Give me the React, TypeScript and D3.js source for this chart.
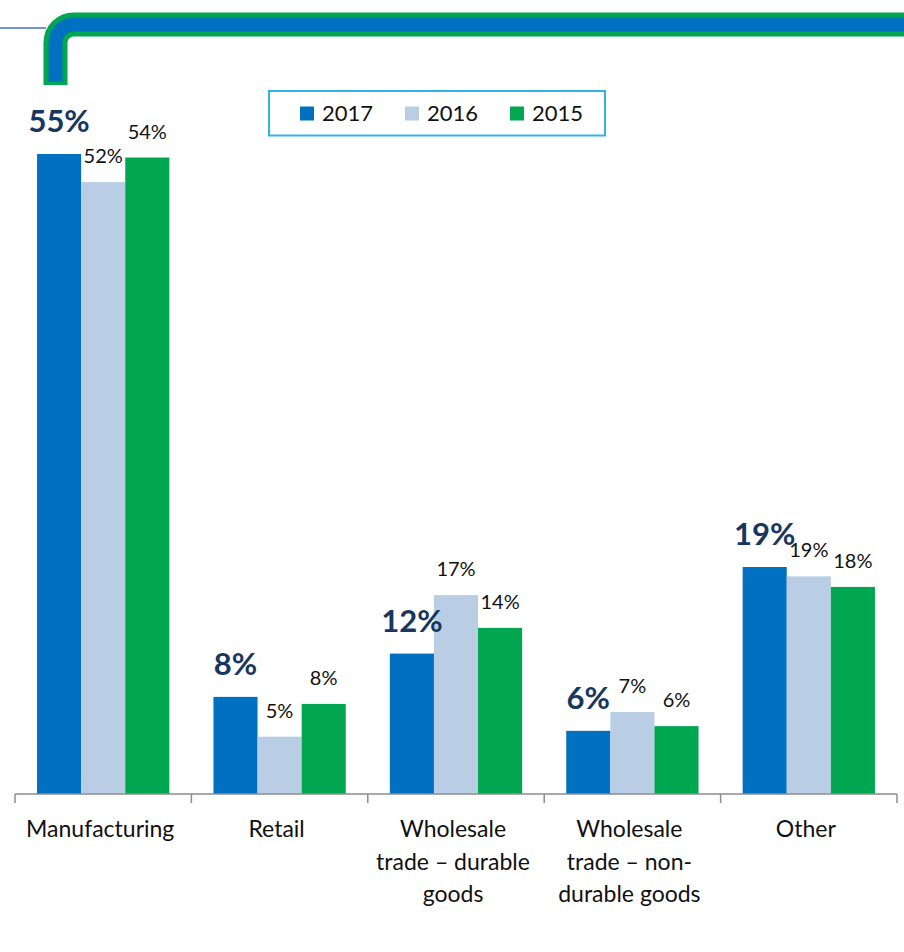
import React from "react";
import * as d3 from "d3";

const categories = [
  "Manufacturing",
  "Retail",
  "Wholesale trade – durable goods",
  "Wholesale trade – non-durable goods",
  "Other",
];
const categoryLines = [
  ["Manufacturing"],
  ["Retail"],
  ["Wholesale", "trade – durable", "goods"],
  ["Wholesale", "trade – non-", "durable goods"],
  ["Other"],
];
const seriesNames = ["2017", "2016", "2015"];
const values2017 = [54.7, 8.3, 12.0, 5.4, 19.4];
const values2016 = [52.3, 4.9, 17.0, 7.0, 18.6];
const values2015 = [54.4, 7.7, 14.2, 5.8, 17.7];
const labels2017 = ["55%", "8%", "12%", "6%", "19%"];
const labels2016 = ["52%", "5%", "17%", "7%", "19%"];
const labels2015 = ["54%", "8%", "14%", "6%", "18%"];

const W = 904;
const H = 952;
const colors = ["#0070C0", "#B9CDE5", "#00A650"];
const FONT = "Lato, 'Open Sans', sans-serif";

export default function App() {
  const series = [values2017, values2016, values2015];
  const labels = [labels2017, labels2016, labels2015];

  const x0 = d3
    .scaleBand<string>()
    .domain(categories)
    .range([15, 897])
    .paddingInner(0)
    .paddingOuter(0);
  const x1 = d3
    .scaleBand<string>()
    .domain(seriesNames)
    .range([0, x0.bandwidth()])
    .paddingInner(0)
    .paddingOuter(0.5);
  const y = d3.scaleLinear().domain([0, 60]).range([794, 794 - 60 * 11.7]);

  const ticks = d3.range(categories.length + 1).map((i) =>
    i < categories.length ? (x0(categories[i]) as number) : 897
  );

  // pipe decoration
  const r = 18;
  const cx = 55.5;
  const cy = 24.5;
  const pipe = (yEnd: number) =>
    `M${cx},${yEnd} L${cx},${cy + r} A${r},${r} 0 0 1 ${cx + r},${cy} L${W + 10},${cy}`;

  const legendItems = seriesNames.map((s, i) => ({ s, i }));
  const legendX = [300, 405, 510];

  return (
    <svg
      width={W}
      height={H}
      style={{ position: "absolute", left: 0, top: 0, background: "#fff" }}
      fontFamily={FONT}
    >
      <rect x={0} y={0} width={W} height={H} fill="#fff" />
      {/* header decoration */}
      <line x1={0} y1={28} x2={46} y2={28} stroke="#4472C4" strokeWidth={1.5} />
      <path d={pipe(85)} fill="none" stroke="#00A650" strokeWidth={24} strokeLinejoin="round" />
      <path d={pipe(81.5)} fill="none" stroke="#0070C0" strokeWidth={14} />

      {/* legend */}
      <rect x={269} y={91} width={336} height={44.5} fill="#fff" stroke="#2FB4EA" strokeWidth={2} />
      {legendItems.map(({ s, i }) => (
        <g key={s}>
          <rect x={legendX[i]} y={106.5} width={14} height={14} fill={colors[i]} />
          <text x={legendX[i] + 22} y={121} fontSize={22} fill="#111">
            {s}
          </text>
        </g>
      ))}

      {/* bars */}
      {categories.map((c, ci) => (
        <g key={c} transform={`translate(${x0(c)},0)`}>
          {seriesNames.map((s, si) => {
            const v = series[si][ci];
            const bx = x1(s) as number;
            const bw = x1.bandwidth();
            return (
              <rect
                key={s}
                x={bx}
                y={y(v)}
                width={bw}
                height={y(0) - y(v)}
                fill={colors[si]}
              />
            );
          })}
          {seriesNames.map((s, si) => {
            const v = series[si][ci];
            const bx = (x1(s) as number) + x1.bandwidth() / 2;
            const bold = si === 0;
            return (
              <text
                key={"l" + s}
                x={bx}
                y={y(v) - (bold ? 22 : 19)}
                textAnchor="middle"
                fontSize={bold ? 31 : 20}
                fontWeight={bold ? 700 : 400}
                fill={bold ? "#17375E" : "#111"}
              >
                {labels[si][ci]}
              </text>
            );
          })}
        </g>
      ))}

      {/* axis */}
      <line x1={15} y1={794} x2={897} y2={794} stroke="#8C8C8C" strokeWidth={1.5} />
      {ticks.map((t, i) => (
        <line key={i} x1={t} y1={794} x2={t} y2={803} stroke="#8C8C8C" strokeWidth={1.5} />
      ))}
      {categories.map((c, ci) => (
        <text
          key={"c" + c}
          x={(x0(c) as number) + x0.bandwidth() / 2 - 3}
          textAnchor="middle"
          fontSize={23}
          fill="#111"
        >
          {categoryLines[ci].map((line, li) => (
            <tspan key={li} x={(x0(c) as number) + x0.bandwidth() / 2 - 3} y={837 + li * 32.5}>
              {line}
            </tspan>
          ))}
        </text>
      ))}
    </svg>
  );
}
